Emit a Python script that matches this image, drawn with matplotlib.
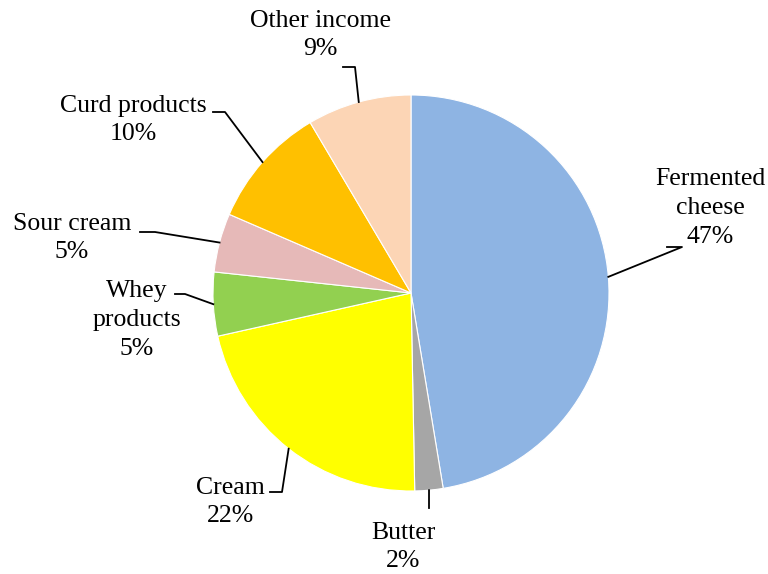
import numpy as np
import matplotlib.pyplot as plt

plt.rcParams['font.family'] = ['Liberation Serif', 'DejaVu Serif']

# data
categories = ['Fermented\ncheese', 'Butter', 'Cream', 'Whey\nproducts',
              'Sour cream', 'Curd products', 'Other income']
shares = [47.4, 2.3, 21.8, 5.2, 4.8, 10.0, 8.5]
pct_labels = ['47%', '2%', '22%', '5%', '5%', '10%', '9%']
colors = ['#8EB4E3', '#A6A6A6', '#FFFF00', '#92D050',
          '#E6B9B8', '#FFC000', '#FCD5B5']

W, H = 768, 574
fig = plt.figure(figsize=(W / 100, H / 100), dpi=100)
ax = fig.add_axes([0, 0, 1, 1])

cx, cy, r = 411, H - 293, 198
wedges, _ = ax.pie(shares, colors=colors, startangle=90, counterclock=False,
                   center=(cx, cy), radius=r, frame=True,
                   wedgeprops=dict(edgecolor='white', linewidth=0.8))
ax.set_xlim(0, W)
ax.set_ylim(0, H)
ax.set_aspect('equal')
ax.axis('off')

# label layout (pixel coords, y from top): text centre, elbow, line end
text_pos = [(710, 208), (403, 547), (230, 502), (137, 320),
            (72, 238), (133, 120), (320, 35)]
elbow = [(682, 247), (429, 508), (282, 492), (185, 294),
         (155, 232), (225, 112), (355, 67)]
line_end = [(667, 247), (429, 508), (270, 492), (175, 294),
            (140, 232), (213, 112), (343, 67)]

for i, w in enumerate(wedges):
    ang = np.deg2rad((w.theta1 + w.theta2) / 2)
    ex = cx + r * np.cos(ang)
    ey = cy + r * np.sin(ang)
    xs = [ex, elbow[i][0], line_end[i][0]]
    ys = [ey, H - elbow[i][1], H - line_end[i][1]]
    ax.plot(xs, ys, color='black', linewidth=1.3)
    ax.text(text_pos[i][0], H - text_pos[i][1],
            f'{categories[i]}\n{pct_labels[i]}', ha='center', va='center',
            fontsize=18.5, linespacing=1.4)

fig.savefig('out.png', dpi=100)
